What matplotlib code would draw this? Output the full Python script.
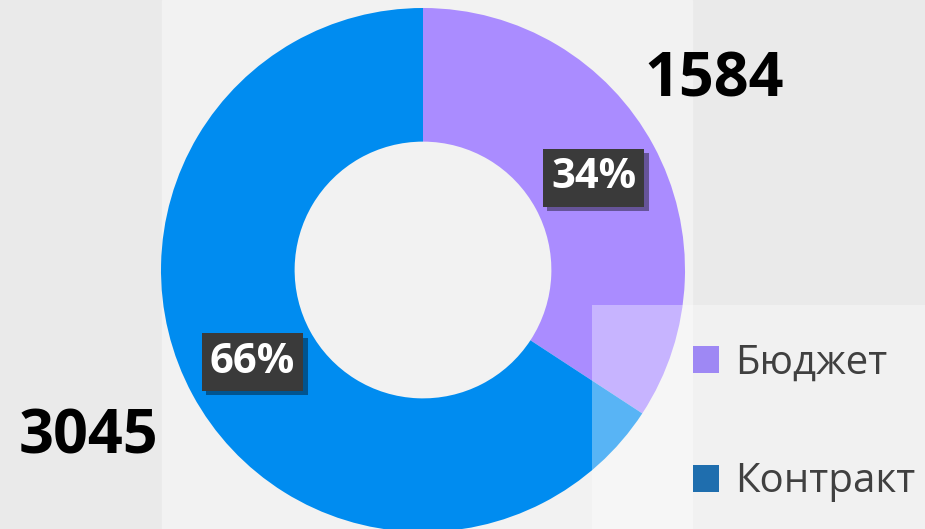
import matplotlib
matplotlib.use('Agg')
import matplotlib.pyplot as plt
from matplotlib.patches import Rectangle, Patch
import matplotlib.patheffects as pe

labels = ["Бюджет", "Контракт"]
values = [1584, 3045]
colors = ["#AA8CFF", "#008CF0"]
legend_colors = ["#9E88F4", "#1F6EAE"]

fig = plt.figure(figsize=(9.25, 5.29), dpi=100)
fig.patch.set_facecolor("#eaeaea")
ax = fig.add_axes([0, 0, 1, 1])

# lighter backdrop behind the donut (faded photo in the original)
ax.add_patch(Rectangle((162, 0), 530, 529, color="#f2f2f2", zorder=0))

wedges, texts, autotexts = ax.pie(
    values, colors=colors, startangle=90, counterclock=False,
    center=(423, 259), radius=262, frame=True,
    wedgeprops=dict(width=262 * 0.51, linewidth=0),
    autopct=lambda p: f"{p:.0f}%", pctdistance=0.74,
    textprops=dict(color="white", fontsize=30, fontweight="bold",
                   family="Open Sans"))
ax.set_xlim(0, 925)
ax.set_ylim(0, 529)
ax.set_aspect("equal")
ax.axis("off")

for t in autotexts:
    t.set_bbox(dict(boxstyle="square,pad=0.2", facecolor="#3a3a3a",
                    edgecolor="none"))
    t.get_bbox_patch().set_path_effects(
        [pe.withSimplePatchShadow(offset=(3, -3), shadow_rgbFace="black", alpha=0.4)])

# translucent panel over lower right
ax.add_patch(Rectangle((592, 0), 333, 224, color="white", alpha=0.35,
                       linewidth=0, zorder=5))

# totals
ax.text(714, 448, str(values[0]), fontsize=44, fontweight="bold",
        family="Open Sans", ha="center", va="center", color="black", zorder=6)
ax.text(88, 91, str(values[1]), fontsize=44, fontweight="bold",
        family="Open Sans", ha="center", va="center", color="black", zorder=6)

handles = [Patch(facecolor=c, edgecolor="none") for c in legend_colors]
leg = ax.legend(handles, labels, loc="upper left", bbox_to_anchor=(0.71, 0.42),
                frameon=False, handlelength=0.65, handleheight=0.65,
                handletextpad=0.4, labelspacing=1.94,
                prop=dict(family="Open Sans", size=29))
for t in leg.get_texts():
    t.set_color("#404040")
leg.set_zorder(7)

fig.savefig("out.png", dpi=100, facecolor=fig.get_facecolor())
